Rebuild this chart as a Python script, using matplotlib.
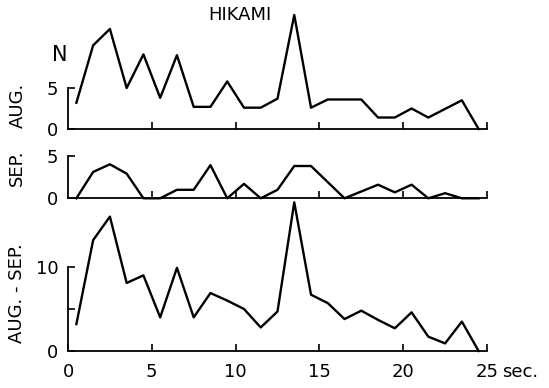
import numpy as np
import matplotlib
matplotlib.use("Agg")
import matplotlib.pyplot as plt

# bin centres (sec.)
t = [0.5, 1.5, 2.5, 3.5, 4.5, 5.5, 6.5, 7.5, 8.5, 9.5, 10.5, 11.5, 12.5,
     13.5, 14.5, 15.5, 16.5, 17.5, 18.5, 19.5, 20.5, 21.5, 22.5, 23.5, 24.5]

aug = [3.2, 10.2, 12.2, 5.0, 9.1, 3.8, 9.0, 2.7, 2.7, 5.8, 2.6, 2.6, 3.7,
       13.9, 2.6, 3.6, 3.6, 3.6, 1.4, 1.4, 2.5, 1.4, 2.45, 3.5, 0.0]

sep = [0.0, 3.1, 4.0, 2.9, 0.0, 0.0, 1.0, 1.0, 3.9, 0.0, 1.7, 0.0, 1.0,
       3.8, 3.8, 1.9, 0.0, 0.8, 1.6, 0.7, 1.6, 0.0, 0.6, 0.0, 0.0]

aug_sep = [3.2, 13.2, 16.0, 8.1, 9.0, 4.0, 9.9, 4.0, 6.9, 6.0, 5.0, 2.8, 4.7,
           17.7, 6.7, 5.7, 3.8, 4.8, 3.7, 2.7, 4.6, 1.7, 0.9, 3.5, 0.0]

xticks = [0, 5, 10, 15, 20, 25]
xlabels = ["0", "5", "10", "15", "20", "25"]

W, H = 549, 388
FS = 13
plt.rcParams["font.family"] = "DejaVu Sans"

fig = plt.figure(figsize=(W / 100, H / 100), dpi=100)

left = 68 / W
width = (487 - 68) / W


def make_ax(bottom_px, top_px):
    ax = fig.add_axes([left, 1 - bottom_px / H, width, (bottom_px - top_px) / H])
    ax.patch.set_alpha(0)
    for s in ["top", "right"]:
        ax.spines[s].set_visible(False)
    ax.spines["bottom"].set_position(("data", 0))
    ax.spines["bottom"].set_bounds(0, 25)
    for s in ["left", "bottom"]:
        ax.spines[s].set_linewidth(1.3)
    ax.set_xlim(0, 25)
    ax.tick_params(direction="in", length=5, width=1.2, labelsize=FS)
    ax.tick_params(axis="y", pad=7)
    ax.tick_params(axis="x", pad=9)
    return ax


# AUG.
ax1 = make_ax(137.2, 6)
ax1.plot(t, aug, color="black", lw=1.7)
ax1.set_ylim(-1, 15)
ax1.spines["left"].set_bounds(0, 5)
ax1.set_yticks([0, 5])
ax1.set_yticklabels(["0", "5"])
ax1.set_xticks(xticks[1:])
ax1.set_xticklabels([])
ax1.set_ylabel("AUG.", fontsize=FS)
ax1.yaxis.set_label_coords(-0.098, 0.245)
ax1.text(-0.5, 9, "N", fontsize=FS + 2, ha="center", va="center")

# SEP.
ax2 = make_ax(203.4, 151.55)
ax2.plot(t, sep, color="black", lw=1.7)
ax2.set_ylim(-0.6, 5.5)
ax2.spines["left"].set_bounds(0, 5)
ax2.set_yticks([0, 5])
ax2.set_yticklabels(["0", "5"])
ax2.set_xticks(xticks[1:])
ax2.set_xticklabels([])
ax2.set_ylabel("SEP.", fontsize=FS)
ax2.yaxis.set_label_coords(-0.1, 0.68)

# AUG. - SEP.
ax3 = make_ax(356.0, 197.3)
ax3.plot(t, aug_sep, color="black", lw=1.7)
ax3.set_ylim(-0.6, 18.3)
ax3.spines["left"].set_bounds(0, 10)
ax3.set_yticks([0, 5, 10])
ax3.set_yticklabels(["0", "", "10"])
ax3.set_xticks(xticks)
ax3.set_xticklabels(xlabels)
ax3.set_ylabel("AUG. - SEP.", fontsize=FS)
ax3.yaxis.set_label_coords(-0.1, 0.397)

fig.text(502 / W, 1 - 372 / H, "sec.", fontsize=FS, ha="left", va="center")
fig.text(240 / W, 1 - 15 / H, "HIKAMI", fontsize=FS, ha="center", va="center")

fig.savefig("out.png", dpi=100)
